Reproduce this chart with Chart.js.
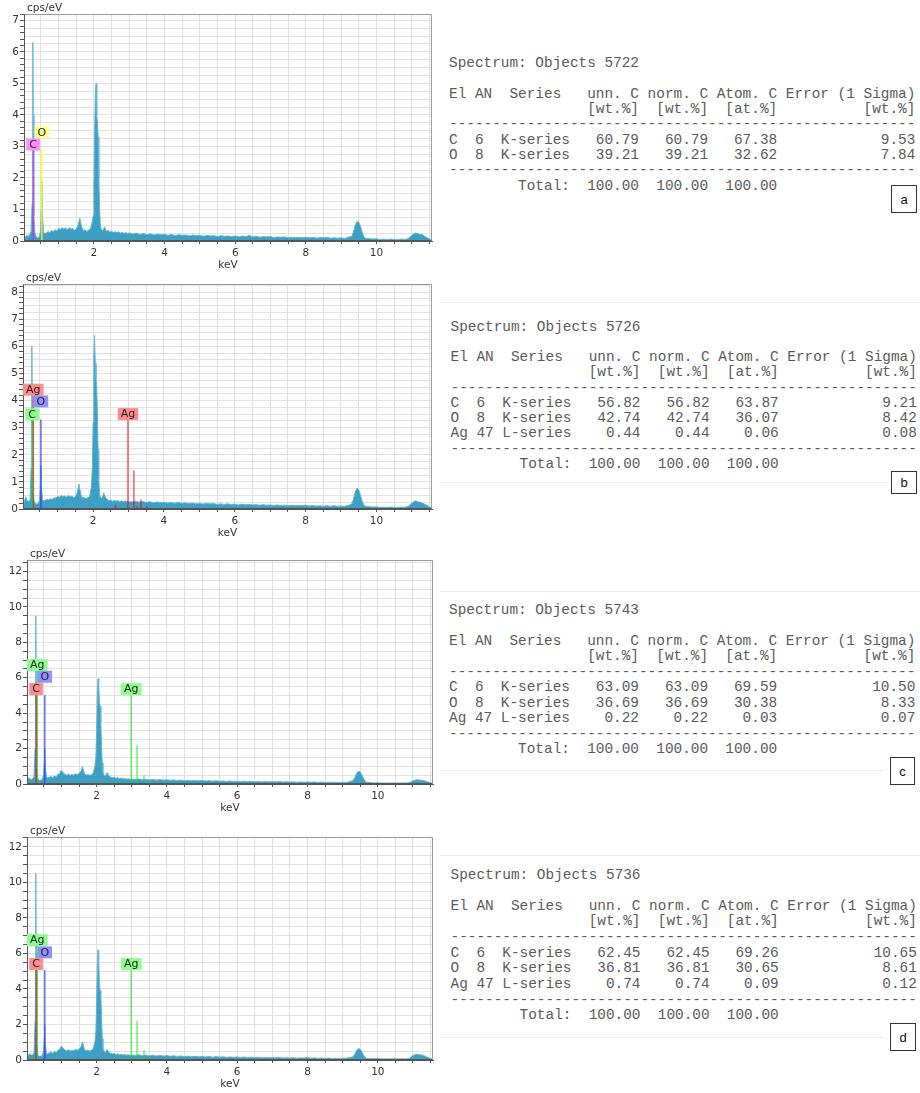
<!DOCTYPE html>
<html><head><meta charset="utf-8">
<script src="https://cdn.jsdelivr.net/npm/chart.js@4.4.1/dist/chart.umd.min.js"></script>
<style>
html,body{margin:0;padding:0;background:#fff;}
body{width:920px;height:1093px;position:relative;overflow:hidden;}
canvas{position:absolute;left:0;}
pre.tbl{position:absolute;margin:0;font-family:"Liberation Mono",monospace;font-size:14.4px;color:#5a5a5a;white-space:pre;}
.tag{position:absolute;border:1px solid #333;box-sizing:border-box;background:#fff;font-family:"Liberation Sans",Arial,sans-serif;font-size:13px;color:#111;display:flex;align-items:center;justify-content:center;}
.sep{position:absolute;height:1px;background:#ececec;}
</style></head><body>
<canvas id="cA" width="440" height="275" style="top:0px"></canvas>
<canvas id="cB" width="440" height="275" style="top:270px"></canvas>
<canvas id="cC" width="440" height="270" style="top:545px"></canvas>
<canvas id="cD" width="440" height="278" style="top:815px"></canvas>

<div class="sep" style="left:440px;width:480px;top:302px"></div>
<div class="sep" style="left:440px;width:450px;top:482px"></div>
<div class="sep" style="left:440px;width:480px;top:591px"></div>
<div class="sep" style="left:440px;width:445px;top:770px"></div>
<div class="sep" style="left:440px;width:480px;top:855px"></div>
<div class="sep" style="left:440px;width:445px;top:1037px"></div>

<pre class="tbl" id="tA" style="left:449px;top:56px;line-height:15.33px"></pre>
<pre class="tbl" id="tB" style="left:450.5px;top:319.5px;line-height:15.26px"></pre>
<pre class="tbl" id="tC" style="left:449px;top:602.5px;line-height:15.55px"></pre>
<pre class="tbl" id="tD" style="left:450.5px;top:867.5px;line-height:15.63px"></pre>

<div class="tag" style="left:891px;top:185px;width:26px;height:28px">a</div>
<div class="tag" style="left:891px;top:471px;width:26px;height:23px">b</div>
<div class="tag" style="left:890px;top:757px;width:25px;height:28px">c</div>
<div class="tag" style="left:890px;top:1023px;width:26px;height:28px">d</div>

<script>
// ---------------- DATA ----------------
// shared energy grid (keV)
const energyKeV = [
  0.02, 0.06, 0.1, 0.14, 0.18, 0.22, 0.25, 0.27, 0.28, 0.3, 0.33, 0.37, 0.41, 0.45, 0.49, 0.51, 0.525, 0.54, 0.57, 0.6,
  0.65, 0.7, 0.75, 0.8, 0.85, 0.9, 0.95, 1.0, 1.05, 1.1, 1.15, 1.2, 1.25, 1.3, 1.35, 1.4, 1.45, 1.5, 1.55, 1.6, 1.65, 1.7, 1.75, 1.8, 1.85, 1.9, 1.95,
  1.98, 2.0, 2.02, 2.04, 2.06, 2.08, 2.1, 2.12, 2.14, 2.16, 2.18, 2.2,
  2.25, 2.3, 2.35, 2.4, 2.45, 2.5, 2.55, 2.6, 2.65, 2.7, 2.75, 2.8, 2.85, 2.9, 2.95, 3.0,
  3.1, 3.2, 3.3, 3.4, 3.5, 3.6, 3.7, 3.8, 3.9, 4.0,
  4.1, 4.2, 4.3, 4.4, 4.5, 4.6, 4.7, 4.8, 4.9, 5.0,
  5.1, 5.2, 5.3, 5.4, 5.5, 5.6, 5.7, 5.8, 5.9, 6.0,
  6.1, 6.2, 6.3, 6.4, 6.5, 6.6, 6.7, 6.8, 6.9, 7.0,
  7.1, 7.2, 7.3, 7.4, 7.5, 7.6, 7.7, 7.8, 7.9, 8.0,
  8.1, 8.2, 8.3, 8.4, 8.5, 8.6, 8.7, 8.8, 8.9, 9.0,
  9.1, 9.2,
  9.3, 9.35, 9.4, 9.45, 9.5, 9.55, 9.6, 9.65, 9.7,
  9.8, 9.9, 10.0, 10.1, 10.2, 10.3, 10.4, 10.5, 10.6, 10.7, 10.8, 10.9, 11.0, 11.1, 11.2, 11.3, 11.4, 11.5, 11.56
];

// cps/eV, panel a
const countsA = [
  0.04, 0.12, 0.18, 0.14, 0.2, 0.3, 1.2, 6.3, 4.0, 0.8, 0.25, 0.12, 0.1, 0.12, 0.3, 1.0, 1.9, 0.9, 0.3, 0.22,
  0.25, 0.3, 0.26, 0.33, 0.3, 0.36, 0.32, 0.4, 0.37, 0.42, 0.38, 0.41, 0.36, 0.42, 0.38, 0.4, 0.35, 0.38, 0.5, 0.72, 0.45, 0.33, 0.36, 0.3, 0.35, 0.38, 0.6,
  0.8, 1.8, 3.5, 4.6, 5.0, 4.0, 3.7, 3.3, 2.0, 1.0, 0.55, 0.4,
  0.32, 0.45, 0.3, 0.34, 0.28, 0.31, 0.27, 0.3, 0.26, 0.29, 0.25, 0.28, 0.24, 0.27, 0.23, 0.26,
  0.22, 0.25, 0.21, 0.24, 0.2, 0.23, 0.19, 0.22, 0.2, 0.21,
  0.18, 0.21, 0.17, 0.2, 0.18, 0.19, 0.16, 0.19, 0.17, 0.18,
  0.15, 0.18, 0.16, 0.17, 0.14, 0.17, 0.15, 0.16, 0.14, 0.16,
  0.13, 0.16, 0.14, 0.18, 0.13, 0.15, 0.12, 0.14, 0.13, 0.14,
  0.11, 0.13, 0.12, 0.13, 0.1, 0.12, 0.11, 0.12, 0.1, 0.12,
  0.1, 0.12, 0.09, 0.11, 0.1, 0.11, 0.09, 0.1, 0.09, 0.1,
  0.08, 0.12,
  0.15, 0.3, 0.52, 0.62, 0.6, 0.45, 0.25, 0.12, 0.08,
  0.08, 0.06, 0.07, 0.05, 0.06, 0.05, 0.06, 0.05, 0.05, 0.06, 0.05, 0.08, 0.18, 0.25, 0.22, 0.2, 0.12, 0.06, 0.03
];
// panel b
const countsB = [
  0.05, 0.3, 0.45, 0.3, 0.28, 0.35, 1.5, 6.0, 3.5, 0.7, 0.3, 0.2, 0.18, 0.2, 0.35, 0.9, 1.6, 0.8, 0.35, 0.3,
  0.32, 0.36, 0.33, 0.38, 0.35, 0.42, 0.4, 0.47, 0.43, 0.5, 0.45, 0.48, 0.44, 0.5, 0.45, 0.47, 0.42, 0.45, 0.6, 0.92, 0.55, 0.4, 0.43, 0.38, 0.42, 0.46, 0.8,
  1.6, 3.2, 5.6, 6.4, 5.4, 4.8, 4.6, 3.6, 2.2, 1.1, 0.6, 0.45,
  0.38, 0.6, 0.42, 0.36, 0.3, 0.33, 0.28, 0.32, 0.29, 0.31, 0.27, 0.3, 0.26, 0.3, 0.27, 0.28,
  0.26, 0.29, 0.25, 0.28, 0.24, 0.27, 0.23, 0.26, 0.24, 0.25,
  0.22, 0.25, 0.21, 0.24, 0.21, 0.23, 0.2, 0.22, 0.19, 0.21,
  0.18, 0.21, 0.19, 0.2, 0.17, 0.19, 0.17, 0.19, 0.16, 0.18,
  0.15, 0.18, 0.16, 0.17, 0.15, 0.16, 0.14, 0.16, 0.14, 0.15,
  0.13, 0.15, 0.13, 0.14, 0.12, 0.14, 0.12, 0.13, 0.12, 0.14,
  0.11, 0.13, 0.11, 0.12, 0.1, 0.12, 0.1, 0.12, 0.1, 0.11,
  0.1, 0.13,
  0.18, 0.35, 0.62, 0.77, 0.72, 0.5, 0.28, 0.14, 0.1,
  0.09, 0.07, 0.08, 0.06, 0.07, 0.06, 0.07, 0.06, 0.06, 0.07, 0.06, 0.1, 0.22, 0.3, 0.26, 0.22, 0.15, 0.08, 0.04
];
// panel c
const countsC = [
  0.1, 0.35, 0.3, 0.25, 0.3, 0.4, 2.0, 9.5, 5.5, 1.0, 0.3, 0.2, 0.22, 0.25, 0.5, 1.2, 2.0, 1.0, 0.4, 0.35,
  0.38, 0.42, 0.36, 0.45, 0.4, 0.55, 0.6, 0.78, 0.62, 0.55, 0.5, 0.56, 0.48, 0.55, 0.5, 0.58, 0.52, 0.6, 0.7, 0.98, 0.6, 0.5, 0.55, 0.48, 0.52, 0.6, 1.0,
  1.5, 3.0, 5.0, 5.95, 5.6, 4.6, 4.4, 3.5, 2.2, 1.2, 0.7, 0.5,
  0.45, 0.65, 0.45, 0.4, 0.35, 0.38, 0.32, 0.36, 0.3, 0.34, 0.28, 0.32, 0.27, 0.3, 0.26, 0.28,
  0.25, 0.28, 0.24, 0.27, 0.23, 0.26, 0.22, 0.25, 0.22, 0.24,
  0.21, 0.23, 0.2, 0.22, 0.19, 0.21, 0.18, 0.2, 0.18, 0.2,
  0.17, 0.19, 0.16, 0.18, 0.16, 0.17, 0.15, 0.17, 0.14, 0.16,
  0.14, 0.16, 0.13, 0.15, 0.13, 0.14, 0.12, 0.14, 0.12, 0.13,
  0.12, 0.14, 0.11, 0.13, 0.11, 0.12, 0.1, 0.12, 0.1, 0.12,
  0.1, 0.12, 0.09, 0.11, 0.09, 0.1, 0.09, 0.1, 0.08, 0.1,
  0.09, 0.14,
  0.2, 0.38, 0.62, 0.72, 0.68, 0.5, 0.28, 0.13, 0.09,
  0.08, 0.06, 0.07, 0.05, 0.06, 0.05, 0.06, 0.05, 0.05, 0.06, 0.05, 0.08, 0.18, 0.24, 0.22, 0.2, 0.13, 0.07, 0.03
];
// panel d
const countsD = [
  0.1, 0.3, 0.35, 0.28, 0.3, 0.4, 2.2, 10.5, 6.0, 1.0, 0.3, 0.2, 0.22, 0.25, 0.5, 1.2, 2.0, 1.0, 0.4, 0.35,
  0.4, 0.45, 0.38, 0.48, 0.42, 0.55, 0.6, 0.78, 0.65, 0.56, 0.52, 0.58, 0.5, 0.56, 0.52, 0.6, 0.55, 0.62, 0.72, 1.02, 0.62, 0.52, 0.56, 0.5, 0.55, 0.62, 1.0,
  1.6, 3.2, 5.3, 6.2, 5.7, 4.2, 3.9, 3.7, 2.4, 1.2, 0.7, 0.5,
  0.42, 0.58, 0.42, 0.38, 0.34, 0.37, 0.31, 0.35, 0.3, 0.33, 0.28, 0.31, 0.27, 0.3, 0.26, 0.28,
  0.26, 0.29, 0.24, 0.28, 0.23, 0.27, 0.22, 0.26, 0.22, 0.25,
  0.21, 0.24, 0.2, 0.23, 0.19, 0.22, 0.18, 0.21, 0.18, 0.2,
  0.17, 0.2, 0.16, 0.19, 0.16, 0.18, 0.15, 0.17, 0.15, 0.17,
  0.14, 0.17, 0.13, 0.16, 0.13, 0.15, 0.12, 0.14, 0.12, 0.14,
  0.12, 0.14, 0.11, 0.13, 0.11, 0.13, 0.1, 0.12, 0.11, 0.14,
  0.1, 0.12, 0.09, 0.11, 0.09, 0.11, 0.09, 0.1, 0.09, 0.1,
  0.1, 0.14,
  0.18, 0.35, 0.55, 0.65, 0.6, 0.45, 0.25, 0.12, 0.09,
  0.09, 0.07, 0.08, 0.06, 0.07, 0.06, 0.07, 0.06, 0.06, 0.07, 0.06, 0.1, 0.25, 0.33, 0.3, 0.26, 0.16, 0.08, 0.04
];

// element marker lines (energy keV, top cps/eV, element)
const lineEA = [0.277, 0.525];
const lineTopA = [2.87, 2.9];
const lineElA = ['C', 'O'];
const lineEB = [0.277, 0.311, 0.525, 2.634, 2.984, 3.151, 3.234, 3.348, 3.52];
const lineTopB = [3.27, 4.18, 3.3, 0.15, 3.28, 1.42, 0.1, 0.35, 0.1];
const lineElB = ['C', 'Ag', 'O', 'Ag', 'Ag', 'Ag', 'Ag', 'Ag', 'Ag'];
const lineEC = [0.277, 0.311, 0.525, 2.634, 2.984, 3.151, 3.348, 3.52];
const lineTopC = [5.02, 6.38, 5.02, 0.2, 5.02, 2.19, 0.5, 0.15];
const lineElC = ['C', 'Ag', 'O', 'Ag', 'Ag', 'Ag', 'Ag', 'Ag'];
const lineED = [0.277, 0.311, 0.525, 2.634, 2.984, 3.151, 3.348, 3.52];
const lineTopD = [5.06, 6.41, 5.06, 0.2, 5.06, 2.21, 0.56, 0.15];
const lineElD = ['C', 'Ag', 'O', 'Ag', 'Ag', 'Ag', 'Ag', 'Ag'];

// element label boxes (text, energy, bottom value)
const labElA = ['C', 'O'];
const labEA = [0.277, 0.525];
const labYA = [2.87, 3.26];
const labElB = ['Ag', 'O', 'C', 'Ag'];
const labEB = [0.311, 0.525, 0.277, 2.984];
const labYB = [4.18, 3.75, 3.27, 3.28];
const labElC = ['Ag', 'O', 'C', 'Ag'];
const labEC = [0.311, 0.525, 0.277, 2.984];
const labYC = [6.38, 5.72, 5.02, 5.02];
const labElD = ['Ag', 'O', 'C', 'Ag'];
const labED = [0.311, 0.525, 0.277, 2.984];
const labYD = [6.41, 5.72, 5.06, 5.06];

// quantification tables
const spectrumIds = ['5722', '5726', '5743', '5736'];
const elSym = ['C', 'O', 'Ag'];
const elAN = [6, 8, 47];
const elSeries = ['K-series', 'K-series', 'L-series'];
const unnA = [60.79, 39.21], normA = [60.79, 39.21], atomA = [67.38, 32.62], errA = [9.53, 7.84];
const unnB = [56.82, 42.74, 0.44], normB = [56.82, 42.74, 0.44], atomB = [63.87, 36.07, 0.06], errB = [9.21, 8.42, 0.08];
const unnC = [63.09, 36.69, 0.22], normC = [63.09, 36.69, 0.22], atomC = [69.59, 30.38, 0.03], errC = [10.50, 8.33, 0.07];
const unnD = [62.45, 36.81, 0.74], normD = [62.45, 36.81, 0.74], atomD = [69.26, 30.65, 0.09], errD = [10.65, 8.61, 0.12];
const totals = [100.00, 100.00, 100.00];

// ---------------- TABLES ----------------
function fmt(v) { return v.toFixed(2); }
function tableText(id, unn, norm, atom, err) {
  const L = [];
  L.push('Spectrum: Objects ' + id);
  L.push('');
  L.push('El AN  Series   unn. C norm. C Atom. C Error (1 Sigma)');
  L.push(' '.repeat(16) + '[wt.%]  [wt.%]  [at.%]' + ' '.repeat(10) + '[wt.%]');
  L.push('-'.repeat(54));
  unn.forEach((u, i) => {
    L.push(elSym[i].padEnd(3) + String(elAN[i]).padEnd(3) + elSeries[i] +
      fmt(u).padStart(8) + fmt(norm[i]).padStart(8) + fmt(atom[i]).padStart(8) + fmt(err[i]).padStart(16));
  });
  L.push('-'.repeat(54));
  L.push(' '.repeat(8) + 'Total:' + fmt(totals[0]).padStart(8) + fmt(totals[1]).padStart(8) + fmt(totals[2]).padStart(8));
  return L.join('\n');
}
document.getElementById('tA').textContent = tableText(spectrumIds[0], unnA, normA, atomA, errA);
document.getElementById('tB').textContent = tableText(spectrumIds[1], unnB, normB, atomB, errB);
document.getElementById('tC').textContent = tableText(spectrumIds[2], unnC, normC, atomC, errC);
document.getElementById('tD').textContent = tableText(spectrumIds[3], unnD, normD, atomD, errD);

// ---------------- CHARTS ----------------
const isMult = (v, m) => Math.abs(v / m - Math.round(v / m)) < 1e-6;
const FONT = 'DejaVu Sans';

function decoPlugin(p) {
  return {
    id: 'deco',
    afterDatasetsDraw(chart) {
      const { ctx, chartArea: a, scales: { x, y } } = chart;
      ctx.save();
      const l = Math.round(a.left) + 0.5, r = Math.round(a.right) - 0.5;
      const t = Math.round(a.top) + 0.5, b = Math.round(a.bottom) - 0.5;
      ctx.lineWidth = 1;
      ctx.strokeStyle = '#9a9a9a';
      ctx.beginPath(); ctx.moveTo(l, t); ctx.lineTo(r, t); ctx.lineTo(r, b); ctx.stroke();
      ctx.strokeStyle = '#555';
      ctx.beginPath(); ctx.moveTo(l, t); ctx.lineTo(l, b); ctx.lineTo(r, b); ctx.stroke();
      // element label boxes
      ctx.font = '11px "' + FONT + '"';
      ctx.textAlign = 'center'; ctx.textBaseline = 'middle';
      p.labEl.forEach((el, i) => {
        const px = x.getPixelForValue(p.labE[i]);
        const py = y.getPixelForValue(p.labY[i]);
        const w = ctx.measureText(el).width + 6, h = 12;
        ctx.fillStyle = p.boxes[el];
        ctx.fillRect(px - w / 2, py - h, w, h);
        ctx.fillStyle = '#222';
        ctx.fillText(el, px, py - h / 2 + 0.5);
      });
      // axis titles
      ctx.fillStyle = '#333';
      ctx.font = '10.5px "' + FONT + '"';
      ctx.textAlign = 'left'; ctx.textBaseline = 'alphabetic';
      ctx.fillText('cps/eV', a.left + 3, a.top - 3);
      ctx.textAlign = 'center'; ctx.textBaseline = 'middle';
      ctx.fillText('keV', (a.left + a.right) / 2, a.bottom + 24);
      ctx.restore();
    }
  };
}

function markerDatasets(lineE, lineTop, lineEl, colors) {
  const els = [...new Set(lineEl)];
  return els.map(el => {
    const data = [];
    lineE.forEach((e, i) => {
      if (lineEl[i] === el) data.push({ x: e, y: 0 }, { x: e, y: lineTop[i] }, { x: e, y: null });
    });
    return { type: 'line', data, borderColor: colors[el], borderWidth: 1.6, pointRadius: 0, fill: false, spanGaps: false, order: 1 };
  });
}

function build(p) {
  const spectrum = {
    type: 'line',
    data: energyKeV.map((e, i) => ({ x: e, y: p.counts[i] })),
    borderColor: '#62b5d5', borderWidth: 1, backgroundColor: '#3d9fc3',
    fill: 'origin', pointRadius: 0, tension: 0, order: 10
  };
  const tickFont = { family: FONT, size: 10.5 };
  new Chart(document.getElementById(p.canvas), {
    type: 'line',
    data: { datasets: [...markerDatasets(p.lineE, p.lineTop, p.lineEl, p.colors), spectrum] },
    options: {
      responsive: false, animation: false, devicePixelRatio: 1, events: [],
      layout: { padding: { left: 0, right: p.pr, top: p.pt, bottom: 0 } },
      plugins: { legend: { display: false }, tooltip: { enabled: false } },
      scales: {
        x: {
          type: 'linear', min: 0.02, max: 11.57,
          afterFit: s => { s.height = p.hx; },
          ticks: {
            stepSize: 0.5, autoSkip: false, includeBounds: false, maxRotation: 0, padding: 3,
            color: '#333', font: tickFont,
            callback: v => (isMult(v, 2) && v > 0.5) ? String(Math.round(v)) : ''
          },
          grid: { color: '#dedede', tickColor: '#555', tickLength: 3 },
          border: { color: '#555' }
        },
        y: {
          type: 'linear', min: 0, max: p.yMax,
          afterFit: s => { s.width = p.wy; },
          ticks: {
            stepSize: 0.05, autoSkip: false, includeBounds: false, padding: 1,
            color: '#333', font: tickFont,
            callback: v => isMult(v, p.labelStep) ? String(Math.round(v)) : ''
          },
          grid: {
            color: c => isMult(c.tick.value, p.gridStep) ? '#e2e2e2' : 'rgba(0,0,0,0)',
            tickColor: c => isMult(c.tick.value, p.tickStep) ? '#555' : 'rgba(0,0,0,0)',
            tickLength: 4
          },
          border: { color: '#555' }
        }
      }
    },
    plugins: [decoPlugin(p)]
  });
}

const pinkC = 'rgba(255,0,255,0.55)', yellowO = 'rgba(255,255,0,0.8)';
const green = 'rgba(0,235,0,0.55)', blue = 'rgba(50,50,255,0.7)', red = 'rgba(255,0,0,0.6)';
const boxGreen = '#8cff8c', boxBlue = '#9090ff', boxRed = '#ff8c8c';

const panels = [
  { canvas: 'cA', counts: countsA, lineE: lineEA, lineTop: lineTopA, lineEl: lineElA, labEl: labElA, labE: labEA, labY: labYA,
    colors: { C: pinkC, O: yellowO }, boxes: { C: '#ff8cff', O: '#ffff8c' },
    yMax: 7.2, wy: 24, pr: 8, pt: 14, hx: 34, labelStep: 1, tickStep: 0.2, gridStep: 0.25 },
  { canvas: 'cB', counts: countsB, lineE: lineEB, lineTop: lineTopB, lineEl: lineElB, labEl: labElB, labE: labEB, labY: labYB,
    colors: { C: green, O: blue, Ag: red }, boxes: { C: boxGreen, O: boxBlue, Ag: boxRed },
    yMax: 8.3, wy: 23, pr: 8, pt: 14, hx: 36, labelStep: 1, tickStep: 0.2, gridStep: 0.25 },
  { canvas: 'cC', counts: countsC, lineE: lineEC, lineTop: lineTopC, lineEl: lineElC, labEl: labElC, labE: labEC, labY: labYC,
    colors: { C: red, O: blue, Ag: green }, boxes: { C: boxRed, O: boxBlue, Ag: boxGreen },
    yMax: 12.65, wy: 27, pr: 7, pt: 15, hx: 31, labelStep: 2, tickStep: 0.5, gridStep: 0.5 },
  { canvas: 'cD', counts: countsD, lineE: lineED, lineTop: lineTopD, lineEl: lineElD, labEl: labElD, labE: labED, labY: labYD,
    colors: { C: red, O: blue, Ag: green }, boxes: { C: boxRed, O: boxBlue, Ag: boxGreen },
    yMax: 12.55, wy: 27, pr: 7, pt: 22, hx: 33, labelStep: 2, tickStep: 0.5, gridStep: 0.5 }
];

const bad = panels.filter(p => p.counts.length !== energyKeV.length).map(p => p.canvas + ':' + p.counts.length + '/' + energyKeV.length);
if (bad.length) {
  document.body.insertAdjacentHTML('beforeend', '<div style="position:absolute;left:500px;top:250px;color:red;font:20px sans-serif">LEN ' + bad.join(' ') + '</div>');
}
panels.forEach(build);
</script>
</body></html>
